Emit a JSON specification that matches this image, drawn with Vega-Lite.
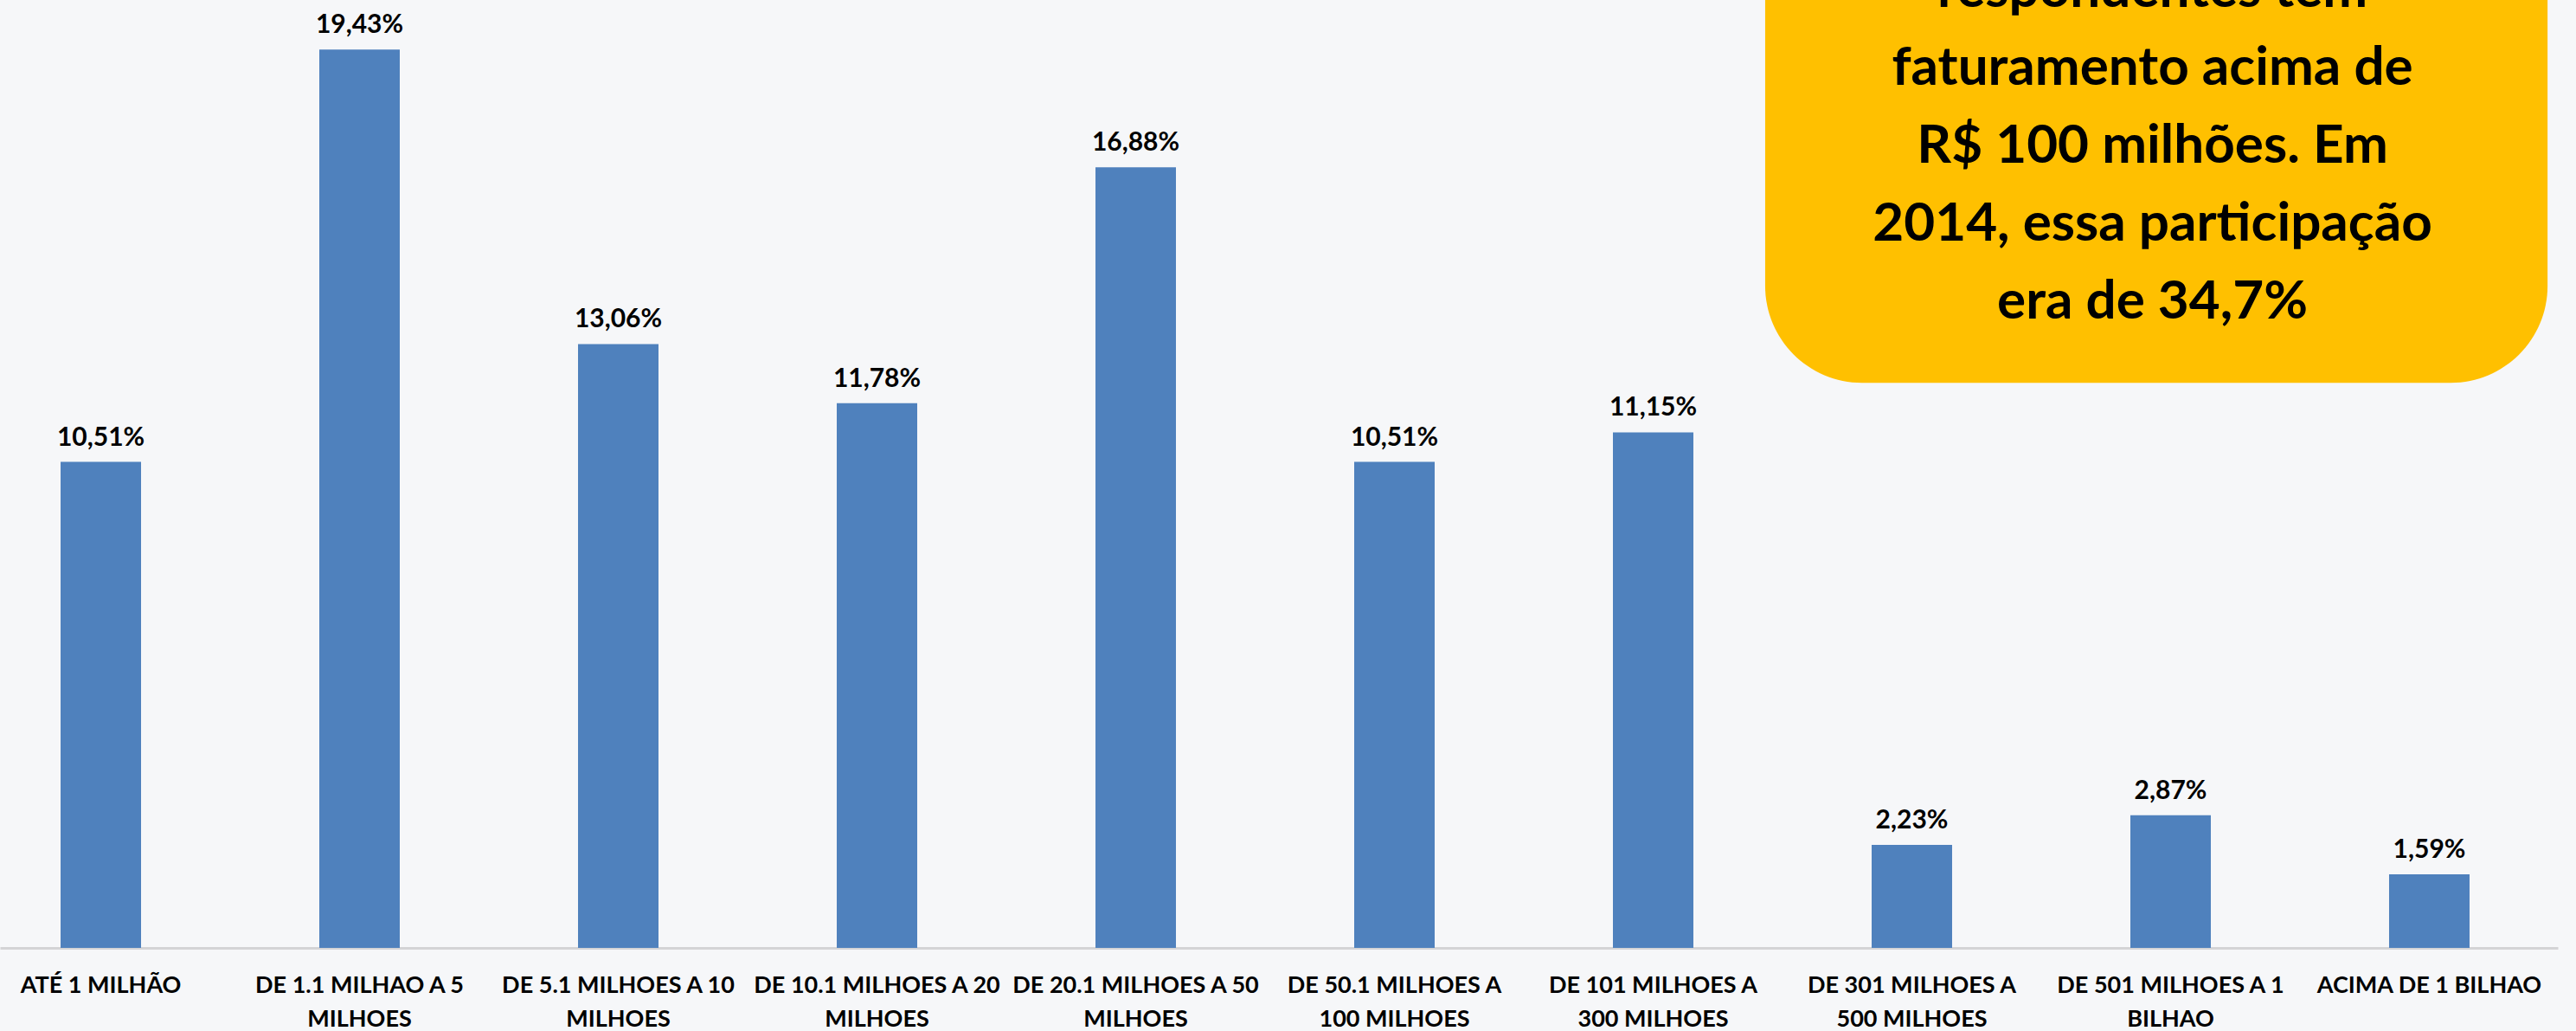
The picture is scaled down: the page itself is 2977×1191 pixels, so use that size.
{
  "$schema": "https://vega.github.io/schema/vega-lite/v6.json",
  "width": 2956,
  "height": 1095,
  "autosize": {"type": "none"},
  "padding": {"left": 0, "top": 0, "right": 21, "bottom": 96},
  "background": "#F6F7F9",
  "config": {
    "view": {"stroke": null},
    "locale": {"number": {"decimal": ",", "thousands": ".", "grouping": [3], "currency": ["R$ ", ""]}}
  },
  "layer": [
    {
      "data": {
        "values": [
          {"faixa": "ATÉ 1 MILHÃO", "pct": 0.1051},
          {"faixa": "DE 1.1 MILHAO A 5 MILHOES", "pct": 0.1943},
          {"faixa": "DE 5.1 MILHOES A 10 MILHOES", "pct": 0.1306},
          {"faixa": "DE 10.1 MILHOES A 20 MILHOES", "pct": 0.1178},
          {"faixa": "DE 20.1 MILHOES A 50 MILHOES", "pct": 0.1688},
          {"faixa": "DE 50.1 MILHOES A 100 MILHOES", "pct": 0.1051},
          {"faixa": "DE 101 MILHOES A 300 MILHOES", "pct": 0.1115},
          {"faixa": "DE 301 MILHOES A 500 MILHOES", "pct": 0.0223},
          {"faixa": "DE 501 MILHOES A 1 BILHAO", "pct": 0.0287},
          {"faixa": "ACIMA DE 1 BILHAO", "pct": 0.0159}
        ]
      },
      "encoding": {
        "x": {
          "field": "faixa",
          "type": "nominal",
          "sort": null,
          "scale": {"paddingInner": 0.689, "paddingOuter": 0.2877, "align": 0.407},
          "axis": {
            "title": null,
            "labelAngle": 0,
            "ticks": false,
            "domainColor": "#D4D4D6",
            "domainWidth": 3,
            "labelFont": "Lato",
            "labelFontWeight": "bold",
            "labelFontSize": 27,
            "labelColor": "#000000",
            "labelPadding": 30,
            "labelLineHeight": 39,
            "labelLimit": 0,
            "labelOverlap": false,
            "labelExpr": "indexof(datum.label, 'DE ') == 0 ? split(replace(datum.label, / ((\\d{3} )?(MILHOES|BILHAO))$/, '|$1'), '|') : datum.label"
          }
        },
        "y": {
          "field": "pct",
          "type": "quantitative",
          "scale": {"domain": [0, 0.205], "nice": false, "zero": true},
          "axis": null
        }
      },
      "layer": [
        {"mark": {"type": "bar", "color": "#4F81BD"}},
        {
          "mark": {"type": "text", "baseline": "alphabetic", "dy": -19, "font": "Lato", "fontWeight": "bold", "fontSize": 30, "color": "#000000"},
          "encoding": {"text": {"field": "pct", "type": "quantitative", "format": ".2%"}}
        }
      ]
    },
    {
      "data": {"values": [{"nota": "respondentes tem\nfaturamento acima de\nR$ 100 milhões. Em\n2014, essa participação\nera de 34,7%"}]},
      "layer": [
        {
          "mark": {"type": "rect", "color": "#FFC000", "cornerRadius": 112},
          "encoding": {
            "x": {"datum": 6.433, "type": "quantitative", "scale": {"domain": [-0.3896, 9.4967], "nice": false, "zero": false}, "axis": null},
            "x2": {"datum": 9.457},
            "y": {"datum": 0.1222, "type": "quantitative", "scale": {"domain": [0, 0.205], "nice": false, "zero": true}, "axis": null},
            "y2": {"datum": 0.26}
          }
        },
        {
          "mark": {"type": "text", "lineBreak": "\n", "lineHeight": 90, "font": "Lato", "fontWeight": "bold", "fontSize": 62, "align": "center", "baseline": "alphabetic", "color": "#000000"},
          "encoding": {
            "x": {"datum": 7.93, "type": "quantitative", "scale": {"domain": [-0.3896, 9.4967], "nice": false, "zero": false}, "axis": null},
            "y": {"datum": 0.2035, "type": "quantitative", "scale": {"domain": [0, 0.205], "nice": false, "zero": true}, "axis": null},
            "text": {"field": "nota"}
          }
        }
      ]
    }
  ],
  "resolve": {"scale": {"x": "independent"}}
}
